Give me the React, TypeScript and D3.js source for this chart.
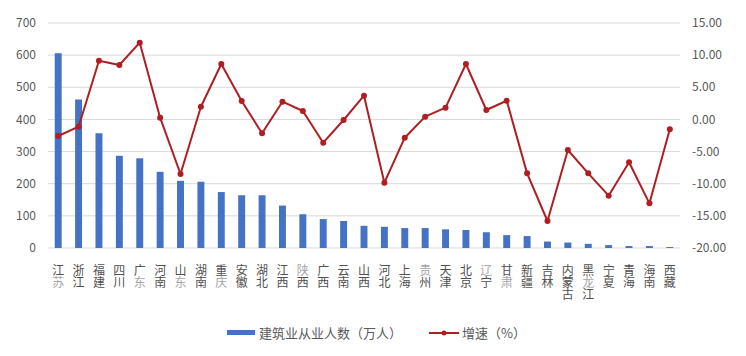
import React from "react";
import * as d3 from "d3";

const categories = ["江苏","浙江","福建","四川","广东","河南","山东","湖南","重庆","安徽","湖北","江西","陕西","广西","云南","山西","河北","上海","贵州","天津","北京","辽宁","甘肃","新疆","吉林","内蒙古","黑龙江","宁夏","青海","海南","西藏"];
const workers = [606,462,357,287,279,237,209,206,174,164,164,132,105,90,84,69,66,62,62,58,56,49,40,37,20,17,13,9,6,6,3];
const growth = [-2.58,-1.13,9.14,8.47,11.94,0.27,-8.49,1.98,8.62,2.87,-2.16,2.76,1.31,-3.62,-0.09,3.69,-9.84,-2.84,0.43,1.83,8.62,1.47,2.91,-8.39,-15.8,-4.76,-8.39,-11.86,-6.67,-13.05,-1.54];
const leftTicks = [0,100,200,300,400,500,600,700];
const rightTicks = [-20,-15,-10,-5,0,5,10,15];
// characters rendered in a lighter fallback glyph in the reference: "catIndex-charIndex"
const lightChars = ["0-1","4-1","6-1","8-1","12-0","18-0","21-0","22-1","26-1"];
const seriesNames = ["建筑业从业人数（万人）","增速（%）"];

const W = 746, H = 356;
const M = { left: 48, right: 680, top: 23, bottom: 248 };
const BAR = "#4472C4";
const LINE = "#B01E22";
const FONT = "'Noto Sans CJK SC', 'Noto Sans', sans-serif";

export default function App() {
  const x = d3.scaleBand<string>().domain(categories).range([M.left, M.right]).paddingInner(0.66).paddingOuter(0.33);
  const yL = d3.scaleLinear().domain([0, 700]).range([M.bottom, M.top]);
  const yR = d3.scaleLinear().domain([-20, 15]).range([M.bottom, M.top]);
  const cx = (c: string) => (x(c) as number) + x.bandwidth() / 2;
  const line = d3.line<number>().x((_, i) => cx(categories[i])).y(d => yR(d));

  return (
    <svg width={W} height={H} style={{ position: "absolute", left: 0, top: 0, background: "#fff" }} fontFamily={FONT}>
      {leftTicks.map(t => (
        <line key={"g" + t} x1={M.left} x2={M.right} y1={yL(t)} y2={yL(t)} stroke="#D9D9D9" strokeWidth={1} />
      ))}
      {leftTicks.map(t => (
        <text key={"l" + t} x={36} y={yL(t)} dy="0.35em" textAnchor="end" fontSize={12} fill="#595959">{t}</text>
      ))}
      {rightTicks.map(t => (
        <text key={"r" + t} x={692} y={yR(t)} dy="0.35em" textAnchor="start" fontSize={12} fill="#595959">{t.toFixed(2)}</text>
      ))}
      {categories.map((c, i) => (
        <rect key={"b" + c} x={x(c)} y={yL(workers[i])} width={x.bandwidth()} height={yL(0) - yL(workers[i])} fill={BAR} />
      ))}
      <path d={line(growth) || ""} fill="none" stroke={LINE} strokeWidth={2} strokeLinejoin="round" />
      {growth.map((g, i) => (
        <circle key={"p" + i} cx={cx(categories[i])} cy={yR(g)} r={3} fill={LINE} />
      ))}
      {categories.map((c, i) => (
        <text key={"x" + c} x={cx(c)} y={264} fontSize={12} fill="#505050"
          style={{ writingMode: "vertical-rl", textOrientation: "upright" } as any}>
          {Array.from(c).map((ch, j) => (
            <tspan key={j} fill={lightChars.includes(i + "-" + j) ? "#A6A6A6" : "#505050"}>{ch}</tspan>
          ))}
        </text>
      ))}
      <rect x={227} y={330} width={28} height={5} fill={BAR} />
      <text x={259} y={333} dy="0.35em" fontSize={13} fill="#595959">{seriesNames[0]}</text>
      <line x1={429} x2={459} y1={333} y2={333} stroke={LINE} strokeWidth={2} />
      <circle cx={444} cy={333} r={2.5} fill={LINE} />
      <text x={462} y={333} dy="0.35em" fontSize={13} fill="#595959">{seriesNames[1]}</text>
    </svg>
  );
}
